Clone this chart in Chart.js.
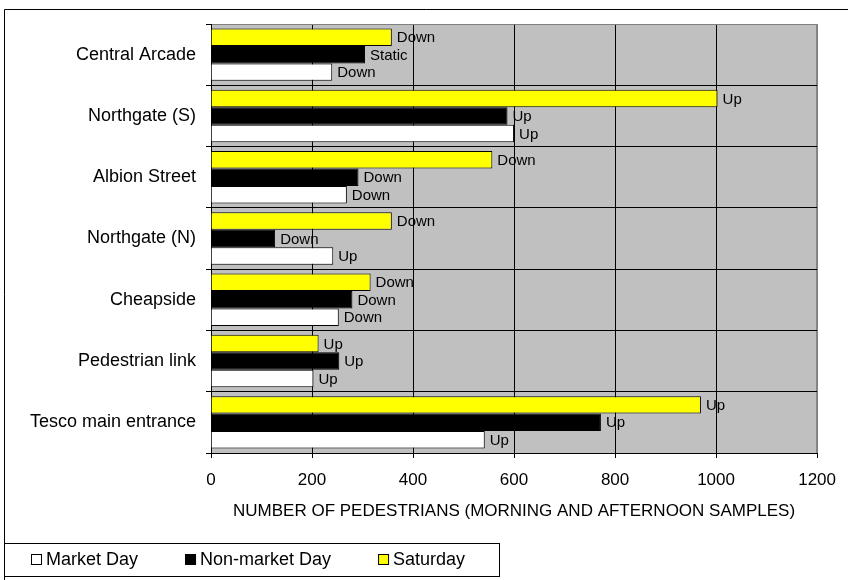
<!DOCTYPE html>
<html>
<head>
<meta charset="utf-8">
<script src="https://cdn.jsdelivr.net/npm/chart.js@4"></script>
<style>
	body { margin: 0; background: #fff; }
	#pedestrians { display: block; }
</style>
</head>
<body>
<canvas id="pedestrians" width="848" height="580"></canvas>
<script>
var locations = ['Central Arcade', 'Northgate (S)', 'Albion Street', 'Northgate (N)', 'Cheapside', 'Pedestrian link', 'Tesco main entrance'];

var saturday = [358, 1003, 557, 358, 316, 213, 970];
var non_market_day = [305, 587, 292, 127, 280, 254, 772];
var market_day = [240, 600, 269, 242, 253, 203, 542];

var saturday_trend = ['Down', 'Up', 'Down', 'Down', 'Down', 'Up', 'Up'];
var non_market_trend = ['Static', 'Up', 'Down', 'Down', 'Down', 'Up', 'Up'];
var market_trend = ['Down', 'Up', 'Down', 'Up', 'Down', 'Up', 'Up'];

var x_ticks = [0, 200, 400, 600, 800, 1000, 1200];

var FONT = 'Liberation Sans, Arial, sans-serif';

// grey plot background with a grey frame
var plot_background = {
	id: 'plot_background',
	beforeDraw: function (chart) {
		var ctx = chart.ctx;
		var a = chart.chartArea;
		ctx.save();
		ctx.fillStyle = '#c0c0c0';
		ctx.fillRect(a.left, a.top, a.right - a.left, a.bottom - a.top);
		ctx.strokeStyle = '#808080';
		ctx.lineWidth = 1;
		ctx.strokeRect(a.left + 0.5, a.top + 0.5, a.right - a.left - 1, a.bottom - a.top);
		ctx.restore();
	}
};

// Up / Down / Static next to each bar
var trend_labels = {
	id: 'trend_labels',
	afterDatasetsDraw: function (chart) {
		var ctx = chart.ctx;
		ctx.save();
		ctx.font = '15px ' + FONT;
		ctx.fillStyle = '#000';
		ctx.textAlign = 'left';
		ctx.textBaseline = 'middle';
		chart.data.datasets.forEach(function (ds, i) {
			var meta = chart.getDatasetMeta(i);
			meta.data.forEach(function (bar, j) {
				ctx.fillText(ds.trend[j], bar.x + 5, bar.y + 1);
			});
		});
		ctx.restore();
	}
};

// outer frame and boxed legend at the bottom left
var frame_and_legend = {
	id: 'frame_and_legend',
	afterDraw: function (chart) {
		var ctx = chart.ctx;
		ctx.save();
		ctx.strokeStyle = '#000';
		ctx.lineWidth = 1;
		ctx.beginPath();
		ctx.moveTo(848, 9.5);
		ctx.lineTo(4.5, 9.5);
		ctx.lineTo(4.5, 580);
		ctx.stroke();

		ctx.strokeRect(4.5, 543.5, 495, 33);

		ctx.font = '18px ' + FONT;
		ctx.textBaseline = 'middle';
		ctx.textAlign = 'left';
		var x = 31;
		var sets = chart.data.datasets.slice().reverse();
		sets.forEach(function (ds) {
			ctx.fillStyle = ds.backgroundColor;
			ctx.fillRect(x, 554, 11, 11);
			ctx.strokeStyle = '#000';
			ctx.strokeRect(x + 0.5, 554.5, 10, 10);
			ctx.fillStyle = '#000';
			ctx.fillText(ds.label, x + 15, 560);
			x = x + 15 + ctx.measureText(ds.label).width + 47;
		});
		ctx.restore();
	}
};

function draw() {
	var ctx = document.getElementById('pedestrians').getContext('2d');

	var myChart = new Chart(ctx, {
		type: 'bar',
		data: {
			labels: locations,
			datasets: [{
				label: 'Saturday',
				data: saturday,
				trend: saturday_trend,
				backgroundColor: '#ffff00',
				borderColor: '#000',
				borderWidth: 1
			}, {
				label: 'Non-market Day',
				data: non_market_day,
				trend: non_market_trend,
				backgroundColor: '#000000',
				borderColor: '#000',
				borderWidth: 1
			}, {
				label: 'Market Day',
				data: market_day,
				trend: market_trend,
				backgroundColor: '#ffffff',
				borderColor: '#000',
				borderWidth: 1
			}]
		},
		options: {
			indexAxis: 'y',
			responsive: false,
			animation: false,
			barPercentage: 1,
			categoryPercentage: 0.855,
			layout: {
				padding: { top: 24, right: 28, left: 0, bottom: 0 }
			},
			plugins: {
				legend: { display: false },
				tooltip: { enabled: false }
			},
			scales: {
				x: {
					min: 0,
					max: 1200,
					afterFit: function (scale) { scale.height = 127; },
					afterBuildTicks: function (scale) {
						scale.ticks = x_ticks.map(function (v) { return { value: v }; });
					},
					grid: {
						color: function (c) { return c.tick && c.tick.value === 1200 ? '#808080' : '#000'; },
						tickColor: '#000',
						tickLength: 5,
						lineWidth: 1
					},
					border: { color: '#000' },
					ticks: {
						color: '#000',
						padding: 12,
						font: { family: FONT, size: 17 },
						callback: function (value) { return String(value); }
					},
					title: {
						display: true,
						text: 'NUMBER OF PEDESTRIANS (MORNING AND AFTERNOON SAMPLES)',
						color: '#000',
						font: { family: FONT, size: 17 },
						padding: { top: 0, bottom: 58 }
					}
				},
				y: {
					afterFit: function (scale) { scale.width = 211; },
					grid: {
						offset: true,
						color: function (c) { return c.index === 0 ? '#808080' : '#000'; },
						tickColor: '#000',
						tickLength: 5,
						lineWidth: 1
					},
					border: { color: '#000' },
					ticks: {
						color: '#000',
						padding: 10,
						font: { family: FONT, size: 18 }
					}
				}
			}
		},
		plugins: [plot_background, trend_labels, frame_and_legend]
	});
}

window.onload = function () {
	draw();
};
</script>
</body>
</html>
